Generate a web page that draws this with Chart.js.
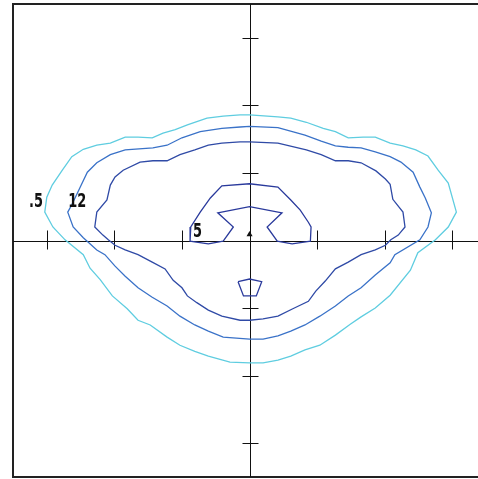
<!DOCTYPE html>
<html>
<head>
<meta charset="utf-8">
<script src="https://cdn.jsdelivr.net/npm/chart.js@4"></script>
<style>
  html, body { margin: 0; padding: 0; background: #fff; overflow: hidden; }
  #wrap { width: 478px; height: 479px; }
</style>
</head>
<body>
<div id="wrap"><canvas id="contourChart" width="478" height="479"></canvas></div>
<script>
// Contour levels, outermost first
const levels = ['.5', '1', '2', '5'];
const levelColors = ['#5fcde0', '#3a72c8', '#2f4aa6', '#2a3a9c'];

// Tick positions on the crossing axes
const xTicks = [-3, -2, -1, 0, 1, 2, 3];
const yTicks = [-3, -2, -1, 0, 1, 2, 3];

// Contour .5 (outer, cyan)
const contourHalfX = [0, 0.42, 0.61, 0.84, 1.09, 1.27, 1.46, 1.68, 1.86, 2.08, 2.27, 2.46, 2.64, 2.79, 2.94, 3.06, 2.94, 2.75, 2.49, 2.38, 2.08, 1.86, 1.65, 1.49, 1.27, 1.04, 0.82, 0.61, 0.42, 0.20, 0,
  -0.29, -0.61, -0.81, -1.03, -1.22, -1.47, -1.65, -1.81, -2.03, -2.21, -2.36, -2.46, -2.73, -2.91, -3.03, -3.00, -2.92, -2.77, -2.63, -2.46, -2.26, -2.06, -1.84, -1.65, -1.44, -1.28, -1.10, -0.92, -0.63, -0.39, -0.14, 0];
const contourHalfY = [1.86, 1.83, 1.81, 1.75, 1.66, 1.61, 1.52, 1.53, 1.53, 1.44, 1.40, 1.34, 1.25, 1.04, 0.85, 0.42, 0.20, 0.01, -0.18, -0.44, -0.81, -1.00, -1.13, -1.24, -1.40, -1.55, -1.62, -1.71, -1.77, -1.81, -1.81,
  -1.80, -1.71, -1.64, -1.55, -1.43, -1.25, -1.18, -1.01, -0.82, -0.58, -0.41, -0.21, 0.01, 0.20, 0.42, 0.64, 0.82, 1.04, 1.24, 1.35, 1.41, 1.44, 1.53, 1.53, 1.52, 1.59, 1.64, 1.71, 1.81, 1.84, 1.86, 1.86];

// Contour 1 (medium blue)
const contourOneX = [0, 0.42, 0.82, 1.06, 1.27, 1.46, 1.65, 1.86, 2.08, 2.24, 2.42, 2.52, 2.60, 2.69, 2.64, 2.52, 2.15, 2.08, 1.86, 1.65, 1.46, 1.27, 1.04, 0.82, 0.61, 0.42, 0.20, 0,
  -0.39, -0.61, -0.81, -1.03, -1.22, -1.44, -1.65, -1.84, -1.99, -2.14, -2.26, -2.46, -2.61, -2.69, -2.63, -2.51, -2.40, -2.26, -2.06, -1.84, -1.43, -1.22, -1.00, -0.73, -0.41, -0.14, 0];
const contourOneY = [1.69, 1.67, 1.56, 1.47, 1.40, 1.38, 1.37, 1.31, 1.24, 1.16, 1.01, 0.79, 0.63, 0.41, 0.20, 0.01, -0.21, -0.33, -0.51, -0.70, -0.82, -0.97, -1.12, -1.25, -1.34, -1.41, -1.46, -1.46,
  -1.43, -1.34, -1.25, -1.12, -0.97, -0.84, -0.70, -0.53, -0.38, -0.21, -0.14, 0.04, 0.20, 0.42, 0.53, 0.78, 1.01, 1.15, 1.27, 1.34, 1.37, 1.41, 1.52, 1.61, 1.66, 1.68, 1.69];

// Contour 2 (dark blue)
const contourTwoX = [0, 0.42, 0.84, 1.06, 1.27, 1.46, 1.65, 1.87, 2.01, 2.08, 2.12, 2.27, 2.30, 2.20, 2.09, 2.01, 1.86, 1.65, 1.46, 1.27, 1.12, 0.98, 0.87, 0.64, 0.42, 0.20, 0,
  -0.14, -0.41, -0.61, -0.78, -0.92, -1.00, -1.13, -1.25, -1.44, -1.65, -1.84, -1.99, -2.09, -2.17, -2.29, -2.26, -2.11, -2.06, -1.99, -1.87, -1.62, -1.43, -1.22, -1.03, -0.81, -0.61, -0.41, -0.14, 0];
const contourTwoY = [1.46, 1.44, 1.34, 1.27, 1.18, 1.18, 1.15, 1.03, 0.91, 0.83, 0.61, 0.42, 0.20, 0.08, 0.01, -0.07, -0.14, -0.21, -0.32, -0.42, -0.60, -0.75, -0.90, -1.01, -1.12, -1.16, -1.18,
  -1.18, -1.12, -1.03, -0.92, -0.82, -0.70, -0.59, -0.42, -0.32, -0.21, -0.14, -0.07, 0.01, 0.08, 0.20, 0.42, 0.60, 0.82, 0.94, 1.04, 1.16, 1.18, 1.18, 1.27, 1.34, 1.41, 1.44, 1.46, 1.46];

// Contour 5 (innermost, horseshoe)
const contourFiveX = [-0.39, -0.24, -0.47, 0, 0.48, 0.26, 0.41, 0.63, 0.90, 0.91, 0.87, 0.75, 0.61, 0.42, 0, -0.41, -0.58, -0.73, -0.87, -0.88, -0.61, -0.39];
const contourFiveY = [-0.01, 0.20, 0.41, 0.50, 0.41, 0.20, -0.01, -0.05, -0.01, 0.20, 0.27, 0.45, 0.60, 0.79, 0.84, 0.81, 0.63, 0.42, 0.20, -0.01, -0.05, -0.01];

// Small closed contour below the peak
const islandX = [-0.17, 0, 0.18, 0.10, -0.09, -0.17];
const islandY = [-0.61, -0.57, -0.61, -0.82, -0.82, -0.61];

// Peak marker
const peakX = [0];
const peakY = [0.09];

// Contour labels and where they sit
const labelText = ['.5', '12', '5'];
const labelX = [-3.16, -2.55, -0.77];
const labelY = [0.58, 0.58, 0.13];

function toPoints(xs, ys) {
  return xs.map((x, i) => ({ x: x, y: ys[i] }));
}

function lineSet(xs, ys, color) {
  return {
    data: toPoints(xs, ys),
    showLine: true,
    borderColor: color,
    borderWidth: 1.3,
    pointRadius: 0,
    tension: 0,
    fill: false
  };
}

// Axes through the origin, cross ticks, frame and labels
const axesPlugin = {
  id: 'axesPlugin',
  beforeDatasetsDraw(chart) {
    const ctx = chart.ctx;
    const area = chart.chartArea;
    const xs = chart.scales.x;
    const ys = chart.scales.y;
    const x0 = Math.round(xs.getPixelForValue(0)) + 0.5;
    const y0 = Math.round(ys.getPixelForValue(0)) + 0.5;

    ctx.save();
    // frame (left, top, bottom)
    ctx.strokeStyle = '#222';
    ctx.lineWidth = 2;
    ctx.beginPath();
    ctx.moveTo(chart.width + 2, area.top);
    ctx.lineTo(area.left, area.top);
    ctx.lineTo(area.left, area.bottom);
    ctx.lineTo(chart.width + 2, area.bottom);
    ctx.stroke();

    ctx.strokeStyle = '#111';
    ctx.lineWidth = 1;
    ctx.beginPath();
    ctx.moveTo(area.left, y0);
    ctx.lineTo(chart.width, y0);
    ctx.moveTo(x0, area.top);
    ctx.lineTo(x0, area.bottom);

    xTicks.forEach(t => {
      if (t === 0) return;
      const px = Math.round(xs.getPixelForValue(t)) + 0.5;
      ctx.moveTo(px, y0 - 11);
      ctx.lineTo(px, y0 + 8);
    });
    yTicks.forEach(t => {
      if (t === 0) return;
      const py = Math.round(ys.getPixelForValue(t)) + 0.5;
      ctx.moveTo(x0 - 8, py);
      ctx.lineTo(x0 + 8, py);
    });
    ctx.stroke();
    ctx.restore();
  },
  afterDatasetsDraw(chart) {
    const ctx = chart.ctx;
    const xs = chart.scales.x;
    const ys = chart.scales.y;
    ctx.save();
    ctx.fillStyle = '#111';
    ctx.font = 'bold 20px "DejaVu Sans Condensed", "Liberation Sans Narrow", sans-serif';
    ctx.textAlign = 'center';
    ctx.textBaseline = 'middle';
    labelText.forEach((t, i) => {
      const px = xs.getPixelForValue(labelX[i]);
      const py = ys.getPixelForValue(labelY[i]);
      ctx.save();
      ctx.translate(px, py);
      ctx.scale(0.72, 1);
      ctx.fillText(t, 0, 0);
      ctx.restore();
    });
    ctx.restore();
  }
};

const ctx = document.getElementById('contourChart').getContext('2d');
new Chart(ctx, {
  type: 'scatter',
  data: {
    datasets: [
      lineSet(contourHalfX, contourHalfY, levelColors[0]),
      lineSet(contourOneX, contourOneY, levelColors[1]),
      lineSet(contourTwoX, contourTwoY, levelColors[2]),
      lineSet(contourFiveX, contourFiveY, levelColors[3]),
      lineSet(islandX, islandY, levelColors[3]),
      {
        data: toPoints(peakX, peakY),
        pointStyle: 'triangle',
        pointRadius: 3.5,
        backgroundColor: '#111',
        borderColor: '#111',
        borderWidth: 0,
        showLine: false
      }
    ]
  },
  options: {
    responsive: false,
    animation: false,
    events: [],
    layout: { autoPadding: false, padding: { left: 13, top: 4, right: 0, bottom: 2 } },
    plugins: {
      legend: { display: false },
      tooltip: { enabled: false },
      title: { display: false }
    },
    scales: {
      x: { type: 'linear', min: -3.5, max: 3.38, display: false },
      y: { type: 'linear', min: -3.5, max: 3.5, display: false }
    }
  },
  plugins: [axesPlugin]
});
</script>
</body>
</html>
